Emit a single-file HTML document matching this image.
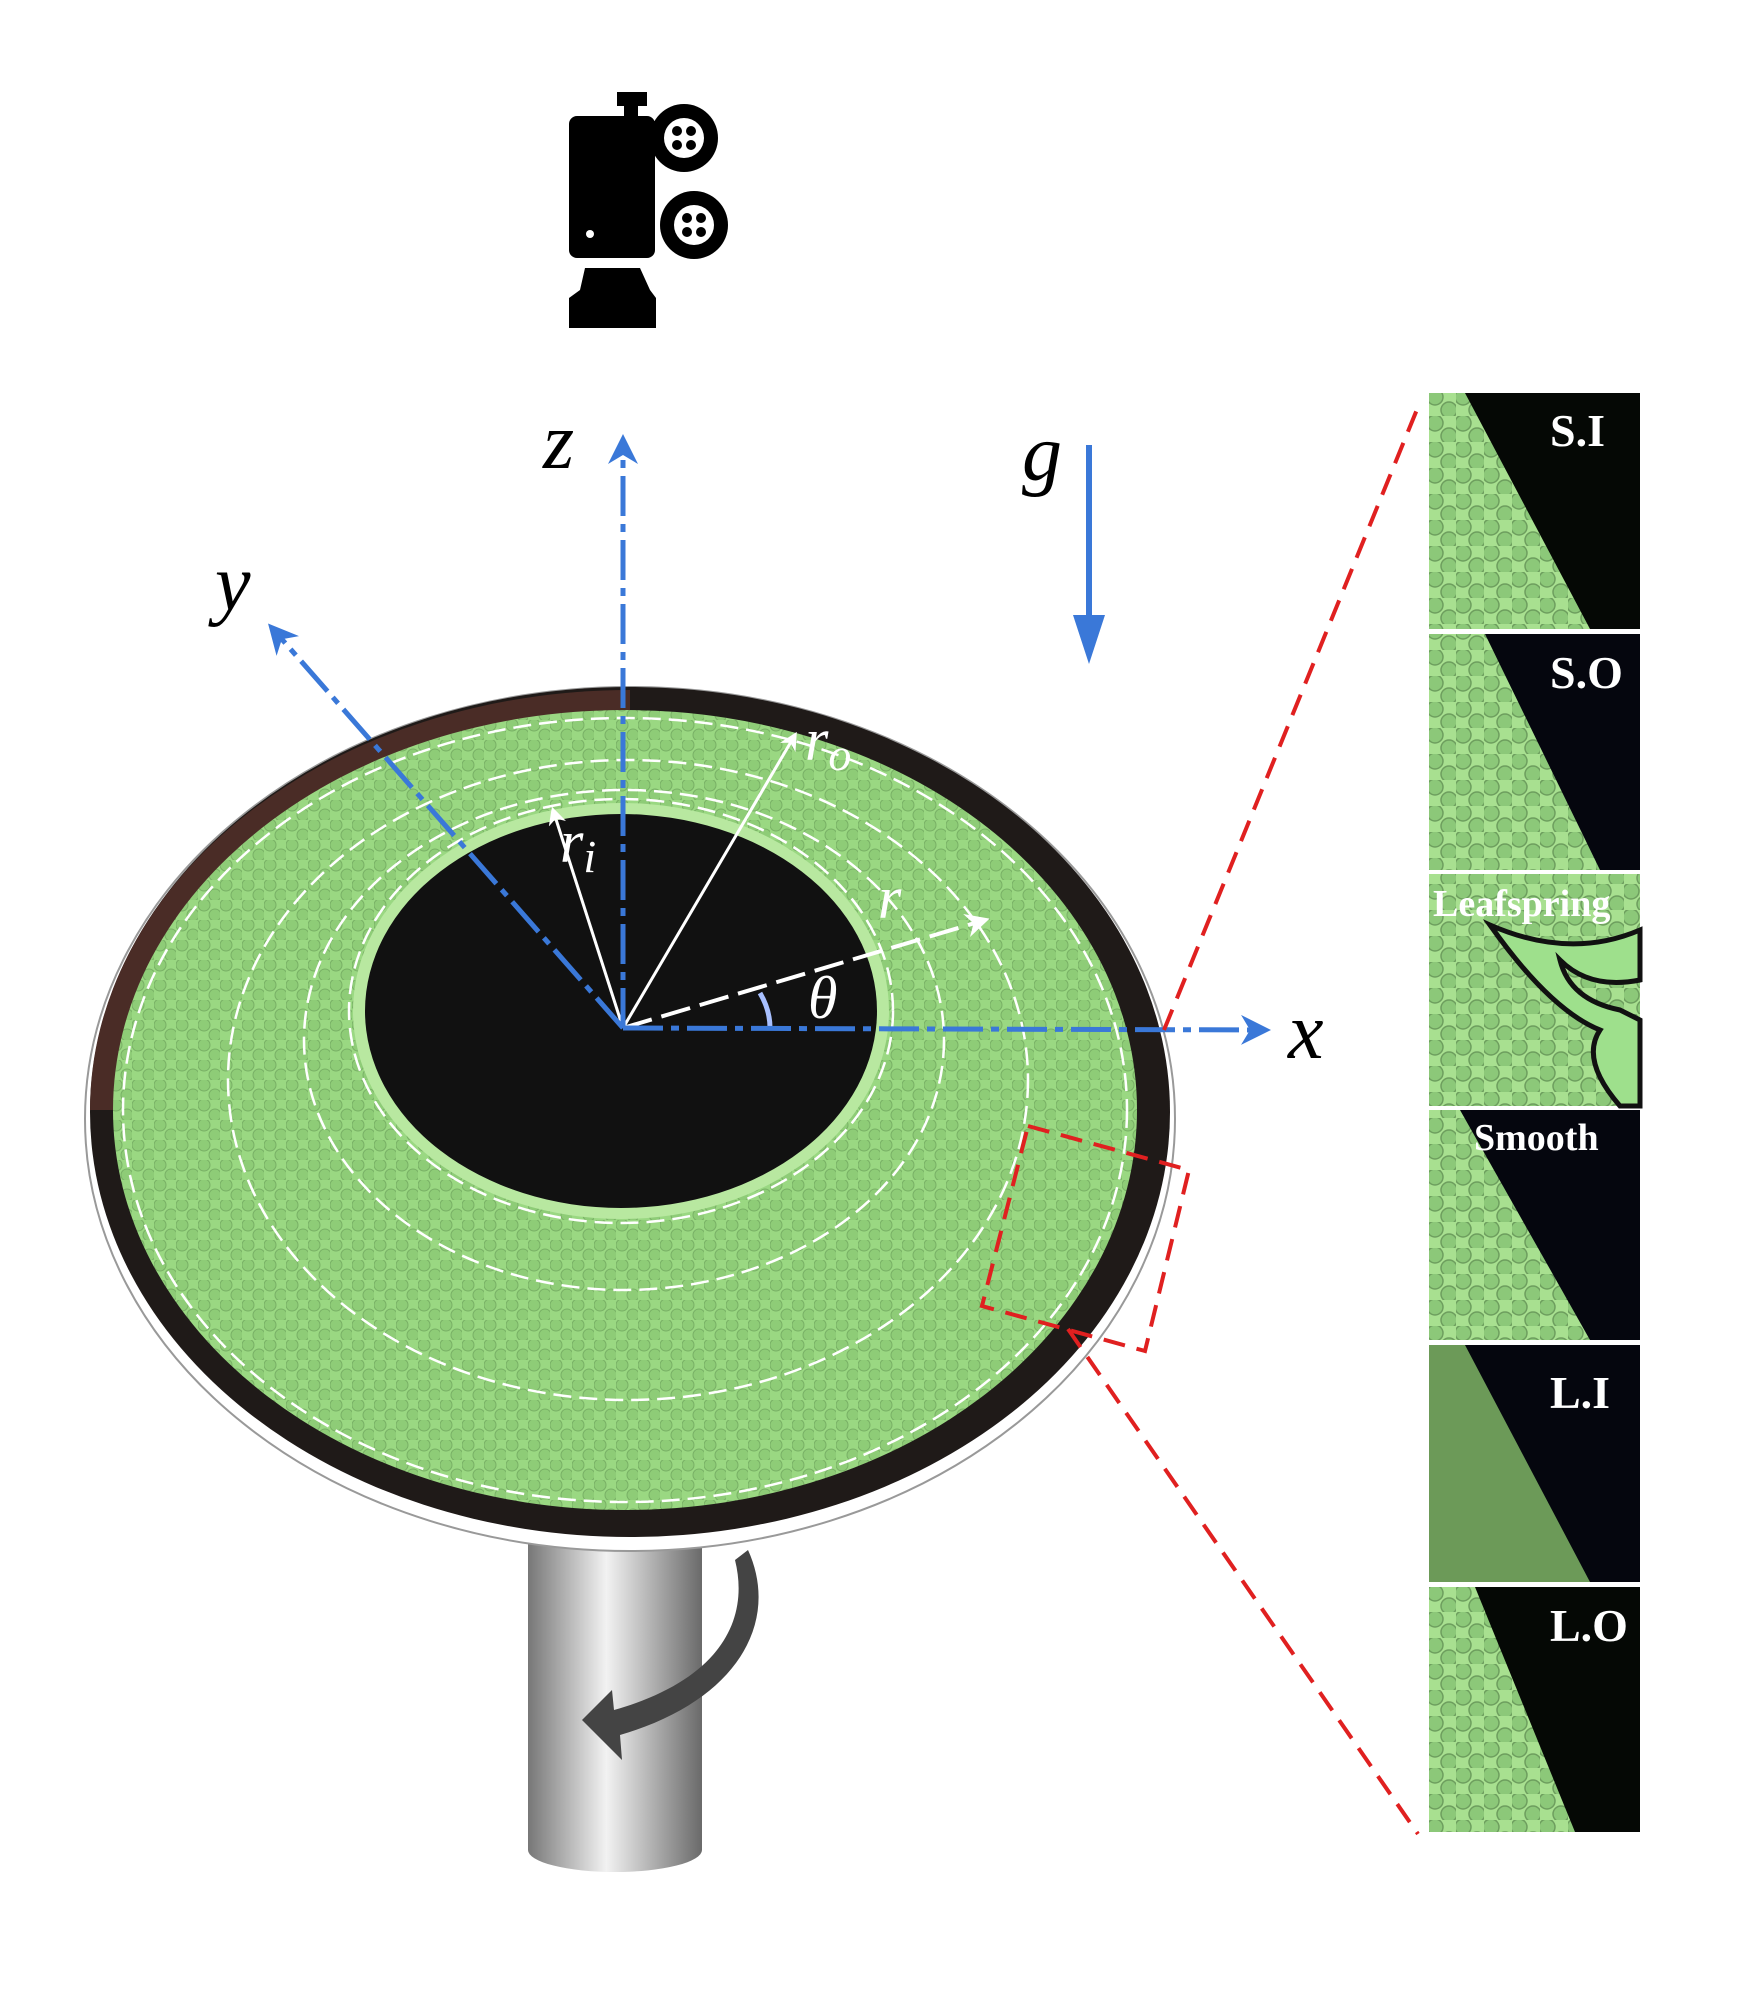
<!DOCTYPE html>
<html><head><meta charset="utf-8"><style>
html,body{margin:0;padding:0;background:#fff}
svg{display:block}
text{font-family:"Liberation Serif",serif}
</style></head><body>
<svg width="1763" height="2002" viewBox="0 0 1763 2002" xmlns="http://www.w3.org/2000/svg">
<defs>
<pattern id="bd" width="22" height="20" patternUnits="userSpaceOnUse">
<rect width="22" height="20" fill="#9ad882"/>
<circle cx="6" cy="5" r="6" fill="#8ecc77" stroke="#78b065" stroke-width="1"/>
<circle cx="17" cy="15" r="6" fill="#8ecc77" stroke="#78b065" stroke-width="1"/>
</pattern>
<pattern id="pb" width="28" height="26" patternUnits="userSpaceOnUse">
<rect width="28" height="26" fill="#a8e090"/>
<circle cx="7" cy="7" r="8" fill="#8cc879" stroke="#6d9e5e" stroke-width="1.5"/>
<circle cx="21" cy="20" r="8" fill="#8cc879" stroke="#6d9e5e" stroke-width="1.5"/>
</pattern>
<linearGradient id="sh" x1="0" x2="1">
<stop offset="0" stop-color="#777"/><stop offset="0.45" stop-color="#f2f2f2"/><stop offset="1" stop-color="#6a6a6a"/>
</linearGradient>
<marker id="ab" viewBox="0 0 10 10" refX="8" refY="5" markerWidth="6" markerHeight="6" orient="auto"><path d="M0,0 L10,5 L0,10 L3,5z" fill="#3a78d8"/></marker>
<marker id="aw" viewBox="0 0 10 10" refX="8" refY="5" markerWidth="6" markerHeight="6" orient="auto"><path d="M0,0 L10,5 L0,10 L3,5z" fill="#fff"/></marker>
</defs>

<!-- camera -->
<g fill="#000">
<rect x="569" y="116" width="86" height="142" rx="8"/>
<rect x="617" y="92" width="30" height="14"/>
<rect x="624" y="100" width="14" height="20"/>
<circle cx="684" cy="138" r="34"/><circle cx="694" cy="225" r="34"/>
<path d="M585 268 H640 L650 290 L656 298 V328 H569 V298 L580 290z"/>
</g>
<g fill="#fff"><circle cx="684" cy="138" r="20"/><circle cx="694" cy="225" r="20"/><circle cx="590" cy="234" r="4"/></g>
<g fill="#000"><circle cx="677" cy="131" r="5"/><circle cx="691" cy="131" r="5"/><circle cx="677" cy="145" r="5"/><circle cx="691" cy="145" r="5"/>
<circle cx="687" cy="218" r="5"/><circle cx="701" cy="218" r="5"/><circle cx="687" cy="232" r="5"/><circle cx="701" cy="232" r="5"/></g>

<!-- shaft -->
<rect x="528" y="1530" width="174" height="320" fill="url(#sh)"/>
<ellipse cx="615" cy="1850" rx="87" ry="22" fill="url(#sh)"/>
<path d="M748 1550 C 780 1620 740 1700 620 1735 L622 1760 L582 1720 L612 1690 L614 1710 C 720 1680 750 1620 735 1560z" fill="#444"/>

<!-- disk -->
<ellipse cx="630" cy="1119" rx="545" ry="432" fill="#fff" stroke="#999" stroke-width="2"/>
<ellipse cx="630" cy="1112" rx="540" ry="425" fill="#1f1a18"/>
<path d="M90 1110 A540 420 0 0 1 630 690 L630 1110z" fill="#4a2c26"/>
<ellipse cx="625" cy="1110" rx="512" ry="400" fill="url(#bd)"/>
<ellipse cx="621" cy="1011" rx="268" ry="208" fill="#b8e8a0"/>
<ellipse cx="621" cy="1011" rx="256" ry="197" fill="#111"/>
<g fill="none" stroke="#fff" stroke-width="2.5" stroke-dasharray="18 8">
<ellipse cx="625" cy="1110" rx="502" ry="392"/>
<ellipse cx="628" cy="1080" rx="400" ry="320"/>
<ellipse cx="624" cy="1040" rx="320" ry="250"/>
<ellipse cx="621" cy="1011" rx="272" ry="212"/>
</g>

<!-- white vectors -->
<g stroke="#fff" stroke-width="3" fill="none">
<line x1="623" y1="1028" x2="553" y2="810" marker-end="url(#aw)"/>
<line x1="623" y1="1028" x2="795" y2="735" marker-end="url(#aw)"/>
<line x1="623" y1="1028" x2="985" y2="920" stroke-width="4" stroke-dasharray="30 10" marker-end="url(#aw)"/>
<path d="M760 993 Q770 1010 770 1028" stroke="#a8c0ff" stroke-width="5"/>
</g>

<!-- blue axes -->
<g stroke="#3a78d8" stroke-width="5" fill="none" stroke-dasharray="40 8 8 8">
<line x1="623" y1="1028" x2="623" y2="440" marker-end="url(#ab)"/>
<line x1="623" y1="1028" x2="272" y2="628" marker-end="url(#ab)"/>
<line x1="623" y1="1028" x2="1265" y2="1030" marker-end="url(#ab)"/>
</g>
<line x1="1089" y1="445" x2="1089" y2="630" stroke="#3a78d8" stroke-width="6"/>
<path d="M1073 615 L1105 615 L1089 664z" fill="#3a78d8"/>

<!-- labels -->
<g font-style="italic" font-size="80">
<text x="543" y="468">z</text>
<text x="215" y="610">y</text>
<text x="1022" y="480">g</text>
<text x="1288" y="1058">x</text>
</g>
<g font-style="italic" font-size="60" fill="#fff">
<text x="560" y="862">r<tspan font-size="46" dy="10">i</tspan></text>
<text x="805" y="760">r<tspan font-size="46" dy="10">o</tspan></text>
<text x="878" y="918">r</text>
<text x="808" y="1018">θ</text>
</g>

<!-- red dashes -->
<g stroke="#e02020" stroke-width="4" fill="none" stroke-dasharray="22 12">
<polygon points="1028,1126 1189,1170 1145,1351 982,1306"/>
<line x1="1164" y1="1030" x2="1418" y2="407"/>
<line x1="1068" y1="1329" x2="1418" y2="1834"/>
</g>

<!-- panels -->
<g>
<rect x="1429" y="393" width="211" height="236" fill="#050805"/>
<polygon points="1429,393 1465,393 1590,629 1429,629" fill="url(#pb)"/>
<rect x="1429" y="634" width="211" height="236" fill="#05060e"/>
<polygon points="1429,634 1485,634 1600,870 1429,870" fill="url(#pb)"/>
<rect x="1429" y="874" width="211" height="232" fill="url(#pb)"/>
<path d="M1490 925 Q1570 960 1640 930 L1640 980 Q1590 990 1560 960 Q1570 1000 1620 1010 L1640 1020 L1640 1106 L1620 1106 Q1580 1060 1600 1030 Q1550 1010 1490 925z" fill="#9ee08c" stroke="#111" stroke-width="5"/>
<rect x="1429" y="1110" width="211" height="230" fill="#05060e"/>
<polygon points="1429,1110 1460,1110 1590,1340 1429,1340" fill="url(#pb)"/>
<rect x="1429" y="1345" width="211" height="237" fill="#05060e"/>
<polygon points="1429,1345 1465,1345 1590,1582 1429,1582" fill="#6c9a58"/>
<rect x="1429" y="1587" width="211" height="245" fill="#050805"/>
<polygon points="1429,1587 1475,1587 1575,1832 1429,1832" fill="url(#pb)"/>
</g>
<g fill="#fff" font-weight="bold" font-size="46">
<text x="1550" y="446">S.I</text>
<text x="1550" y="688">S.O</text>
<text x="1433" y="916" font-size="38">Leafspring</text>
<text x="1474" y="1150" font-size="38">Smooth</text>
<text x="1550" y="1408">L.I</text>
<text x="1550" y="1641">L.O</text>
</g>
</svg>
</body></html>
